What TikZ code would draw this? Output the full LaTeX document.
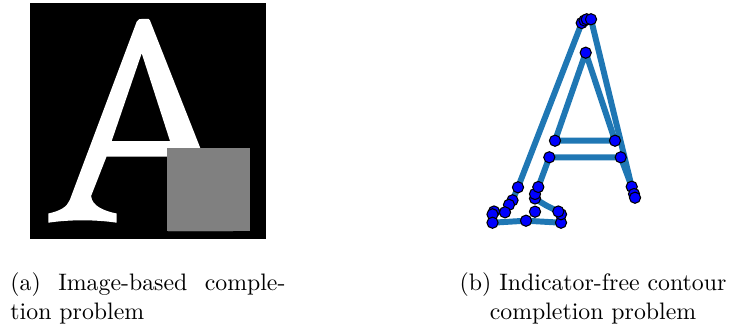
\documentclass[tikz,border=0pt]{standalone}
\usepackage{tikz}
\definecolor{myblue}{rgb}{0.122,0.467,0.706}
\definecolor{mydot}{rgb}{0,0,1}

\begin{document}
\begin{tikzpicture}[x=0.42pt,y=-0.42pt,
		contour/.style={line width=2.5pt,color=myblue,line join=round},
		knot/.style={fill=mydot,draw=black,line width=0.45pt}]
			\useasboundingbox (0,0) rectangle (730,324);

			% Draw the masked image
			\fill[black] (30,3) rectangle (266,239);
			\fill[white,even odd rule] (136.7,21.7) .. controls (138,19) and (140,18.8) .. (143,18.8) -- (148.5,19) -- (150,20.5) -- (233,231) -- (168,231) -- (168,156.7) -- (106.5,156.7) -- (91.1,196) .. controls (92,206) and (104,211) .. (116.7,213.5) -- (116.7,222.7) .. controls (95,219.5) and (70,219.5) .. (48.3,222.7) -- (48.3,213.5) .. controls (60,211) and (67,207) .. (69.8,200) -- cycle
				(141.7,53.3) -- (170,141) -- (111.7,141) -- cycle;
			\fill[gray] (167,148) rectangle (250,231);

			% Contour points
			\coordinate (t1) at (581.7,23);   \coordinate (t2) at (584.5,20.5);
			\coordinate (t3) at (586.7,19.3); \coordinate (t4) at (591,19.3);
			\coordinate (a0) at (585.7,52.7);
			\coordinate (u1) at (555,140.7);  \coordinate (u2) at (615,140.7);
			\coordinate (c1) at (549.3,157.3); \coordinate (c2) at (620.7,157.3);
			\coordinate (r1) at (631.7,186.7); \coordinate (r2) at (634,194);
			\coordinate (r3) at (635,197.7);
			\coordinate (l1) at (518,187.3);  \coordinate (l2) at (512.5,200.3);
			\coordinate (l3) at (509,204.8);  \coordinate (l4) at (505,212.3);
			\coordinate (l5) at (494,211.5);  \coordinate (l6) at (492.5,214.3);
			\coordinate (l7) at (492.5,222.7);
			\coordinate (b1) at (526,220.7);  \coordinate (b2) at (561,222.7);
			\coordinate (b3) at (561,214.3);  \coordinate (b4) at (558.3,211.5);
			\coordinate (i1) at (535,211.7);  \coordinate (i2) at (535,198.5);
			\coordinate (i3) at (535,194);    \coordinate (i4) at (538.3,187);

			% Draw the contours
			\draw[contour] (r3) -- (r2) -- (r1) -- (t4) -- (t3) -- (t2) -- (t1) -- (l1) -- (l2) -- (l3) -- (l4) -- (l5) -- (l6) -- (l7) -- (b1) -- (b2) -- (b3) -- (b4) .. controls (545,205) .. (i2) -- (i3) -- (i4) -- (c1) -- (c2) -- (r1);
			\draw[contour] (a0) -- (u2) -- (u1) -- cycle;

			% Draw the points
			\foreach \p in {t1,t2,t3,t4,a0,u1,u2,c1,c2,r1,r2,r3,l1,l2,l3,l4,l5,l6,l7,b1,b2,b3,b4,i1,i2,i3,i4}
				\draw[knot] (\p) circle (2.35pt);

			% Captions
			\node[anchor=north west,inner sep=0pt,text width=115.5pt,align=left] (capa) at (10,270) {\strut(a)\hfill Image-based\hfill comple-\\tion problem};
			\node[anchor=north,inner sep=0pt,align=center] (capb) at (593,270) {\strut(b) Indicator-free contour\\completion problem};
		\end{tikzpicture}
\end{document}
